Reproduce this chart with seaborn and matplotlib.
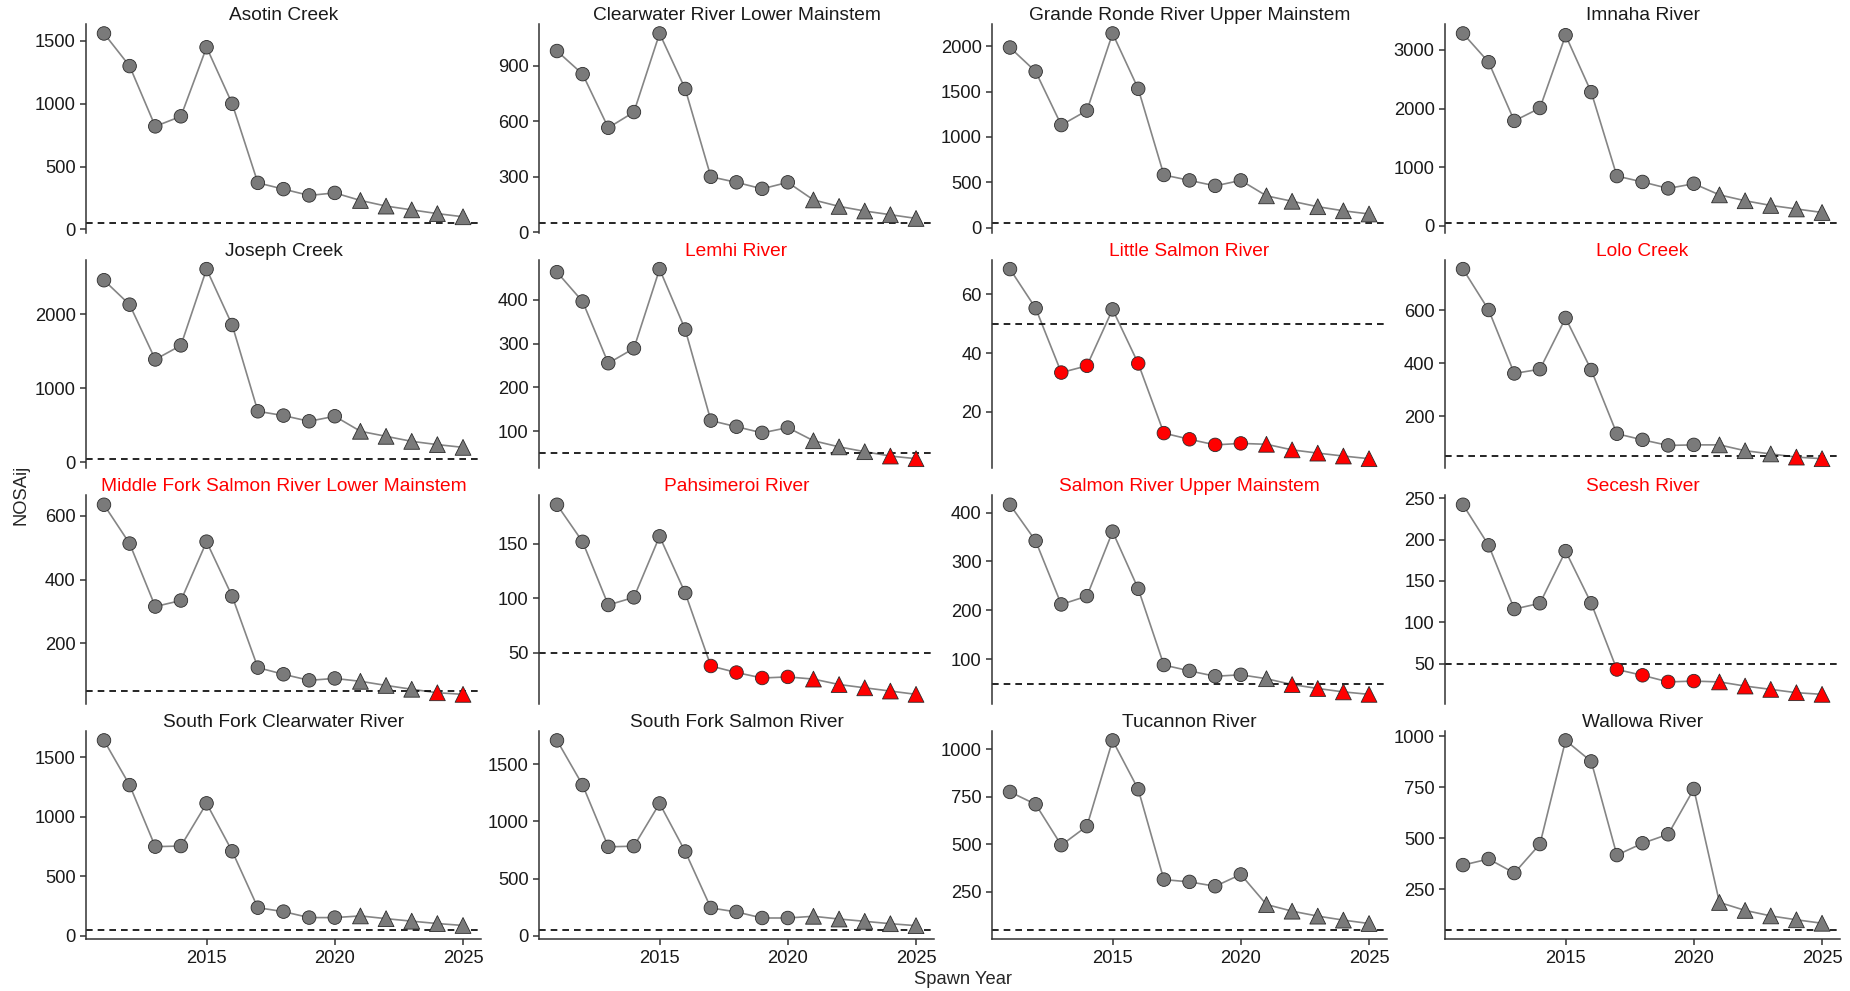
import matplotlib
matplotlib.use("Agg")
import matplotlib.pyplot as plt
import seaborn as sns
import pandas as pd

# spawn years, first 10 observed then 5 projected
years = list(range(2011, 2026))
phase = ["Observed"] * 10 + ["Projected"] * 5
threshold = 50

rivers = [
    "Asotin Creek", "Clearwater River Lower Mainstem", "Grande Ronde River Upper Mainstem", "Imnaha River",
    "Joseph Creek", "Lemhi River", "Little Salmon River", "Lolo Creek",
    "Middle Fork Salmon River Lower Mainstem", "Pahsimeroi River", "Salmon River Upper Mainstem", "Secesh River",
    "South Fork Clearwater River", "South Fork Salmon River", "Tucannon River", "Wallowa River",
]

asotin = [1560, 1300, 820, 900, 1450, 1000, 370, 320, 270, 290, 230, 185, 155, 125, 100]
clearwater_lower = [980, 855, 565, 650, 1075, 775, 300, 270, 235, 270, 175, 140, 115, 95, 75]
grande_ronde_upper = [1985, 1720, 1130, 1290, 2140, 1530, 580, 520, 460, 520, 350, 290, 230, 185, 150]
imnaha = [3280, 2790, 1790, 2010, 3250, 2280, 850, 750, 640, 720, 530, 430, 350, 290, 230]
joseph = [2460, 2130, 1390, 1580, 2610, 1855, 690, 632, 555, 623, 420, 352, 284, 240, 203]
lemhi = [463, 396, 255, 289, 470, 332, 124, 110, 96, 108, 78, 64, 53, 43, 37]
little_salmon = [68.6, 55.3, 33.4, 35.7, 54.9, 36.5, 12.8, 10.7, 8.8, 9.3, 9.0, 7.1, 6.0, 5.0, 4.1]
lolo = [754, 600, 361, 377, 570, 374, 134, 111, 90, 92, 92, 70, 58, 46, 40]
middle_fork_lower = [635, 513, 315, 334, 519, 347, 123, 102, 83, 89, 80, 67, 55, 44, 39]
pahsimeroi = [186, 152, 94, 101, 157, 105, 38, 32, 27, 28, 26, 21, 18, 15, 12]
salmon_upper = [416, 342, 212, 229, 361, 244, 88, 76, 65, 68, 60, 48, 40, 33, 28]
secesh = [242, 193, 116, 123, 186, 123, 43, 36, 28, 29, 28, 23, 19, 15, 13]
sf_clearwater = [1640, 1265, 749, 754, 1112, 710, 237, 204, 154, 154, 168, 145, 124, 104, 88]
sf_salmon = [1710, 1319, 778, 784, 1158, 737, 243, 208, 155, 155, 170, 146, 126, 105, 88]
tucannon = [776, 711, 496, 596, 1047, 790, 315, 303, 280, 342, 184, 149, 123, 102, 84]
wallowa = [368, 398, 329, 471, 979, 876, 417, 475, 519, 741, 185, 146, 119, 100, 83]

series = [asotin, clearwater_lower, grande_ronde_upper, imnaha,
          joseph, lemhi, little_salmon, lolo,
          middle_fork_lower, pahsimeroi, salmon_upper, secesh,
          sf_clearwater, sf_salmon, tucannon, wallowa]

yticks = [
    [0, 500, 1000, 1500], [0, 300, 600, 900], [0, 500, 1000, 1500, 2000], [0, 1000, 2000, 3000],
    [0, 1000, 2000], [100, 200, 300, 400], [20, 40, 60], [200, 400, 600],
    [200, 400, 600], [50, 100, 150], [100, 200, 300, 400], [50, 100, 150, 200, 250],
    [0, 500, 1000, 1500], [0, 500, 1000, 1500], [250, 500, 750, 1000], [250, 500, 750, 1000],
]
xticks = [2015, 2020, 2025]

sns.set_theme(style="ticks")
plt.rcParams["font.family"] = ["Liberation Sans", "DejaVu Sans"]

fig, axes = plt.subplots(4, 4, figsize=(18.5, 9.91), dpi=100)
fig.subplots_adjust(left=0.0465, right=0.9946, top=0.9758, bottom=0.052,
                    wspace=0.147, hspace=0.13)

for i, (name, vals, ticks) in enumerate(zip(rivers, series, yticks)):
    ax = axes.flat[i]
    df = pd.DataFrame({"year": years, "nosa": vals, "phase": phase})
    df["status"] = ["below" if v < threshold else "above" for v in vals]

    sns.lineplot(data=df, x="year", y="nosa", color="#858585", linewidth=1.2, ax=ax, zorder=1)
    ax.axhline(threshold, color="black", linestyle=(0, (4, 3)), linewidth=1.2, zorder=2)
    sns.scatterplot(data=df, x="year", y="nosa", hue="status", style="phase", size="phase",
                    palette={"above": "#7a7a7a", "below": "#ff0000"},
                    markers={"Observed": "o", "Projected": "^"},
                    sizes={"Observed": 95, "Projected": 130},
                    edgecolor="#2b2b2b", linewidth=0.6, legend=False, ax=ax, zorder=3)

    # ggplot-like limits: data + hline, 5% expansion
    lo = min(min(vals), threshold)
    hi = max(max(vals), threshold)
    pad = 0.05 * (hi - lo)
    ax.set_ylim(lo - pad, hi + pad)
    ax.set_xlim(2011 - 0.7, 2025 + 0.7)
    ax.set_yticks(ticks)
    ax.set_xticks(xticks)
    ax.set_xlabel("")
    ax.set_ylabel("")

    title_color = "#ff0000" if min(vals) < threshold else "#1a1a1a"
    ax.set_title(name, fontsize=13.8, color=title_color, pad=2.5)

    sns.despine(ax=ax)
    for sp in ["left", "bottom"]:
        ax.spines[sp].set_linewidth(1.1)
        ax.spines[sp].set_color("#333333")
    ax.tick_params(axis="both", labelsize=13.2, colors="#333333", labelcolor="#1a1a1a",
                   length=4, width=1.1)
    if i < 12:
        ax.spines["bottom"].set_visible(False)
        ax.tick_params(axis="x", bottom=False, labelbottom=False)

fig.text(0.0114, 0.5005, "NOSAij", rotation=90, ha="center", va="center", fontsize=13.2)
fig.text(0.5205, 0.0121, "Spawn Year", ha="center", va="center", fontsize=13.2)

fig.savefig("out.png", dpi=100)
